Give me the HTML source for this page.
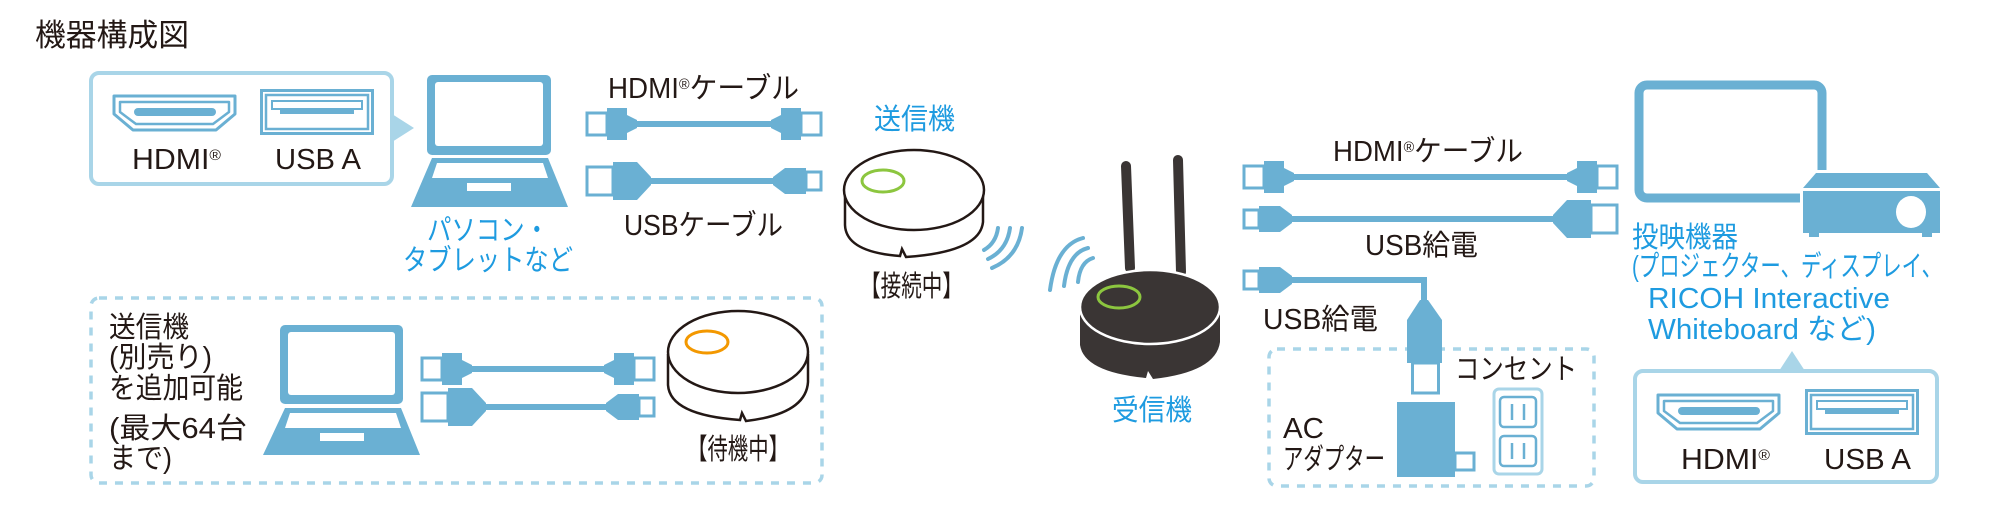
<!DOCTYPE html>
<html><head><meta charset="utf-8"><style>
html,body{margin:0;padding:0;background:#fff;}
svg{display:block;}
text{font-family:"Liberation Sans","Noto Sans CJK JP",sans-serif;}
</style></head><body>
<svg width="2012" height="518" viewBox="0 0 2012 518" xmlns="http://www.w3.org/2000/svg">
<defs>
<g id="hdmiPlug">
  <rect x="2" y="-11" width="20" height="22" fill="#fff" stroke="#6ab0d3" stroke-width="3"/>
  <path d="M22,-16 H42 V-9 L52,-4 V4 L42,9 V16 H22 Z" fill="#6ab0d3"/>
</g>
<g id="usbBig">
  <rect x="2" y="-14" width="26" height="28" fill="#fff" stroke="#6ab0d3" stroke-width="3"/>
  <path d="M28,-19 H52 L66,-4 V4 L52,19 H28 Z" fill="#6ab0d3"/>
</g>
<g id="usbSmall">
  <rect x="2" y="-9" width="15" height="18" fill="#fff" stroke="#6ab0d3" stroke-width="3"/>
  <path d="M17,-13 H38 L50,-4 V4 L38,13 H17 Z" fill="#6ab0d3"/>
</g>
<g id="hdmiIcon">
  <path d="M4,4 H125 V22 L106,38 H23 L4,22 Z" fill="#fff" stroke="#6ab0d3" stroke-width="3" stroke-linejoin="round"/>
  <path d="M10,10 H119 V20 L103,32 H26 L10,20 Z" fill="none" stroke="#6ab0d3" stroke-width="2.5" stroke-linejoin="round"/>
  <rect x="24" y="16" width="82" height="8" rx="4" fill="#6ab0d3"/>
</g>
<g id="usbIcon">
  <rect x="1.5" y="1.5" width="111" height="43" fill="#fff" stroke="#6ab0d3" stroke-width="3"/>
  <rect x="6" y="6" width="102" height="34" fill="none" stroke="#6ab0d3" stroke-width="2.5"/>
  <rect x="12" y="12" width="90" height="8" fill="none" stroke="#6ab0d3" stroke-width="2"/>
  <rect x="20" y="20" width="74" height="5" fill="#6ab0d3"/>
</g>
</defs>

<!-- Title -->
<text x="35" y="46" font-size="31" fill="#231815" textLength="154" lengthAdjust="spacingAndGlyphs">機器構成図</text>

<!-- Box 1 -->
<rect x="91" y="73" width="301" height="111" rx="8" fill="#fff" stroke="#a9d5e8" stroke-width="4"/>
<polygon points="392,114 414,128 392,142" fill="#a9d5e8"/>
<use href="#hdmiIcon" transform="translate(110,92)"/>
<use href="#usbIcon" transform="translate(260,89)"/>
<text x="132" y="169" font-size="29" fill="#231815" textLength="89" lengthAdjust="spacingAndGlyphs">HDMI<tspan font-size="15" baseline-shift="60%">®</tspan></text>
<text x="275" y="169" font-size="29" fill="#231815" textLength="86" lengthAdjust="spacingAndGlyphs">USB A</text>

<!-- Laptop 1 -->
<rect x="427" y="75" width="124" height="80" rx="5" fill="#6ab0d3"/>
<rect x="435" y="82" width="108" height="64" rx="3" fill="#fff"/>
<path d="M432,158 H548 L568,207 H411 Z" fill="#6ab0d3"/>
<path d="M437,163 H543 L548,178 H432 Z" fill="#fff"/>
<rect x="467" y="183" width="44" height="8" fill="#fff"/>
<text x="427" y="240" font-size="29" fill="#1e9be0" textLength="122" lengthAdjust="spacingAndGlyphs">パソコン・</text>
<text x="403" y="270" font-size="29" fill="#1e9be0" textLength="170" lengthAdjust="spacingAndGlyphs">タブレットなど</text>

<!-- Transmitter cables -->
<text x="608" y="98" font-size="29" fill="#231815" textLength="191" lengthAdjust="spacingAndGlyphs">HDMI<tspan font-size="15" baseline-shift="60%">®</tspan>ケーブル</text>
<line x1="630" y1="124" x2="780" y2="124" stroke="#6ab0d3" stroke-width="6"/>
<use href="#hdmiPlug" transform="translate(585,124)"/>
<use href="#hdmiPlug" transform="translate(823,124) scale(-1,1)"/>
<line x1="640" y1="181" x2="780" y2="181" stroke="#6ab0d3" stroke-width="6"/>
<use href="#usbBig" transform="translate(585,181)"/>
<use href="#usbSmall" transform="translate(823,181) scale(-1,1)"/>
<text x="624" y="235" font-size="29" fill="#231815" textLength="159" lengthAdjust="spacingAndGlyphs">USBケーブル</text>

<!-- Transmitter -->
<text x="874" y="129" font-size="29" fill="#1e9be0" textLength="81" lengthAdjust="spacingAndGlyphs">送信機</text>
<path d="M845,192 V225 Q846,252 900,256 L902,249 L906,257 Q980,252 983,222 V192" fill="#fff" stroke="#231815" stroke-width="2.5"/>
<ellipse cx="914" cy="190" rx="70" ry="40" fill="#fff" stroke="#231815" stroke-width="2.5"/>
<ellipse cx="883" cy="181" rx="21" ry="11" fill="none" stroke="#8cc63f" stroke-width="3"/>
<g fill="none" stroke="#6ab0d3" stroke-width="4" stroke-linecap="round">
  <path d="M984,250 Q996,243 998,228"/>
  <path d="M988,259 Q1007,250 1010,228"/>
  <path d="M992,268 Q1018,257 1022,228"/>
</g>
<text x="860" y="296" font-size="29" fill="#231815" textLength="103" lengthAdjust="spacingAndGlyphs">【接続中】</text>

<!-- Dashed box 1 -->
<rect x="91" y="298" width="731" height="185" rx="8" fill="none" stroke="#a9d5e8" stroke-width="3.5" stroke-dasharray="8,8"/>
<text x="109" y="337" font-size="29" fill="#231815" textLength="80" lengthAdjust="spacingAndGlyphs">送信機</text>
<text x="109" y="367" font-size="29" fill="#231815" textLength="103" lengthAdjust="spacingAndGlyphs">(別売り)</text>
<text x="109" y="398" font-size="29" fill="#231815" textLength="134" lengthAdjust="spacingAndGlyphs">を追加可能</text>
<text x="109" y="438" font-size="29" fill="#231815" textLength="138" lengthAdjust="spacingAndGlyphs">(最大64台</text>
<text x="109" y="468" font-size="29" fill="#231815" textLength="63" lengthAdjust="spacingAndGlyphs">まで)</text>

<!-- Laptop 2 -->
<rect x="280" y="325" width="123" height="79" rx="5" fill="#6ab0d3"/>
<rect x="288" y="332" width="107" height="63" rx="3" fill="#fff"/>
<path d="M285,408 H401 L420,455 H263 Z" fill="#6ab0d3"/>
<path d="M290,413 H396 L401,428 H285 Z" fill="#fff"/>
<rect x="320" y="433" width="44" height="8" fill="#fff"/>

<!-- Standby cables -->
<line x1="465" y1="369" x2="610" y2="369" stroke="#6ab0d3" stroke-width="6"/>
<use href="#hdmiPlug" transform="translate(420,369)"/>
<use href="#hdmiPlug" transform="translate(656,369) scale(-1,1)"/>
<line x1="475" y1="407" x2="610" y2="407" stroke="#6ab0d3" stroke-width="6"/>
<use href="#usbBig" transform="translate(420,407)"/>
<use href="#usbSmall" transform="translate(656,407) scale(-1,1)"/>

<!-- Standby device -->
<path d="M668,354 V385 Q670,415 740,420 L742,413 L746,421 Q806,414 808,382 V354" fill="#fff" stroke="#231815" stroke-width="2.5"/>
<ellipse cx="738" cy="352" rx="70" ry="41" fill="#fff" stroke="#231815" stroke-width="2.5"/>
<ellipse cx="707" cy="342" rx="21" ry="11" fill="none" stroke="#f39800" stroke-width="3"/>
<text x="687" y="459" font-size="29" fill="#231815" textLength="102" lengthAdjust="spacingAndGlyphs">【待機中】</text>

<!-- Receiver -->
<g fill="none" stroke="#6ab0d3" stroke-width="4" stroke-linecap="round">
  <path d="M1093,258 Q1080,262 1078,282"/>
  <path d="M1088,248 Q1068,253 1064,286"/>
  <path d="M1083,238 Q1056,245 1050,290"/>
</g>
<line x1="1130" y1="268" x2="1126" y2="166" stroke="#3a3534" stroke-width="10" stroke-linecap="round"/>
<line x1="1181" y1="272" x2="1178" y2="160" stroke="#3a3534" stroke-width="10" stroke-linecap="round"/>
<path d="M1080,310 V345 Q1084,372 1146,378 L1148,371 L1153,379 Q1216,372 1220,342 V310 Z" fill="#3a3534"/>
<ellipse cx="1150" cy="307" rx="70" ry="37" fill="#3a3534" stroke="#fff" stroke-width="2.5"/>
<ellipse cx="1119" cy="297" rx="21" ry="11" fill="none" stroke="#8cc63f" stroke-width="3"/>
<text x="1112" y="420" font-size="29" fill="#1e9be0" textLength="80" lengthAdjust="spacingAndGlyphs">受信機</text>

<!-- Receiver cables -->
<text x="1333" y="161" font-size="29" fill="#231815" textLength="190" lengthAdjust="spacingAndGlyphs">HDMI<tspan font-size="15" baseline-shift="60%">®</tspan>ケーブル</text>
<line x1="1290" y1="177" x2="1570" y2="177" stroke="#6ab0d3" stroke-width="6"/>
<use href="#hdmiPlug" transform="translate(1242,177)"/>
<use href="#hdmiPlug" transform="translate(1619,177) scale(-1,1)"/>
<line x1="1285" y1="219" x2="1560" y2="219" stroke="#6ab0d3" stroke-width="6"/>
<use href="#usbSmall" transform="translate(1242,219)"/>
<use href="#usbBig" transform="translate(1619,219) scale(-1,1)"/>
<text x="1365" y="255" font-size="29" fill="#231815" textLength="113" lengthAdjust="spacingAndGlyphs">USB給電</text>
<path d="M1285,280 H1424 V305" fill="none" stroke="#6ab0d3" stroke-width="6"/>
<use href="#usbSmall" transform="translate(1242,280)"/>
<text x="1263" y="329" font-size="29" fill="#231815" textLength="115" lengthAdjust="spacingAndGlyphs">USB給電</text>

<!-- Dashed box 2 -->
<rect x="1269" y="349" width="325" height="137" rx="8" fill="none" stroke="#a9d5e8" stroke-width="3.5" stroke-dasharray="8,8"/>
<path d="M1420,300 L1407,320 V363 H1442 V320 L1428,300 Z" fill="#6ab0d3"/>
<rect x="1412.5" y="363" width="26" height="30" fill="#fff" stroke="#6ab0d3" stroke-width="3"/>
<text x="1455" y="379" font-size="29" fill="#231815" textLength="122" lengthAdjust="spacingAndGlyphs">コンセント</text>
<rect x="1397" y="402" width="58" height="75" fill="#6ab0d3"/>
<rect x="1455" y="453" width="19" height="17" fill="#fff" stroke="#6ab0d3" stroke-width="3"/>
<text x="1283" y="438" font-size="29" fill="#231815" textLength="41" lengthAdjust="spacingAndGlyphs">AC</text>
<text x="1283" y="469" font-size="29" fill="#231815" textLength="102" lengthAdjust="spacingAndGlyphs">アダプター</text>
<rect x="1494" y="389" width="48" height="85" rx="5" fill="#fff" stroke="#a9d5e8" stroke-width="3"/>
<rect x="1500" y="397" width="36" height="30" rx="4" fill="#fff" stroke="#6ab0d3" stroke-width="2.5"/>
<rect x="1500" y="436" width="36" height="30" rx="4" fill="#fff" stroke="#6ab0d3" stroke-width="2.5"/>
<g stroke="#6ab0d3" stroke-width="2.5">
<line x1="1512" y1="404" x2="1512" y2="420"/><line x1="1524" y1="404" x2="1524" y2="420"/>
<line x1="1512" y1="443" x2="1512" y2="459"/><line x1="1524" y1="443" x2="1524" y2="459"/>
</g>

<!-- Monitor & projector -->
<rect x="1639" y="85" width="183" height="113" rx="8" fill="#fff" stroke="#6ab0d3" stroke-width="9"/>
<g stroke="#fff" stroke-width="6" stroke-linejoin="round">
<path d="M1816,173 H1927 L1940,188 H1803 Z" fill="#6ab0d3"/>
<rect x="1803" y="190" width="137" height="43" fill="#6ab0d3"/>
</g>
<path d="M1816,173 H1927 L1940,188 H1803 Z" fill="#6ab0d3"/>
<rect x="1803" y="191" width="137" height="42" fill="#6ab0d3"/>
<rect x="1809" y="232" width="10" height="5" fill="#6ab0d3"/>
<rect x="1922" y="232" width="10" height="5" fill="#6ab0d3"/>
<ellipse cx="1911" cy="212" rx="15" ry="16" fill="#fff"/>
<text x="1632" y="247" font-size="29" fill="#1e9be0" textLength="106" lengthAdjust="spacingAndGlyphs">投映機器</text>
<text x="1632" y="276" font-size="29" fill="#1e9be0" textLength="310" lengthAdjust="spacingAndGlyphs">(プロジェクター、ディスプレイ、</text>
<text x="1648" y="308" font-size="29" fill="#1e9be0" textLength="242" lengthAdjust="spacingAndGlyphs">RICOH Interactive</text>
<text x="1648" y="339" font-size="29" fill="#1e9be0" textLength="228" lengthAdjust="spacingAndGlyphs">Whiteboard など)</text>

<!-- Box 2 -->
<polygon points="1779,371 1792,351 1805,371" fill="#a9d5e8"/>
<rect x="1635" y="371" width="302" height="111" rx="8" fill="#fff" stroke="#a9d5e8" stroke-width="4"/>
<use href="#hdmiIcon" transform="translate(1654,391)"/>
<use href="#usbIcon" transform="translate(1805,389)"/>
<text x="1681" y="469" font-size="29" fill="#231815" textLength="89" lengthAdjust="spacingAndGlyphs">HDMI<tspan font-size="15" baseline-shift="60%">®</tspan></text>
<text x="1824" y="469" font-size="29" fill="#231815" textLength="87" lengthAdjust="spacingAndGlyphs">USB A</text>
</svg>
</body></html>
